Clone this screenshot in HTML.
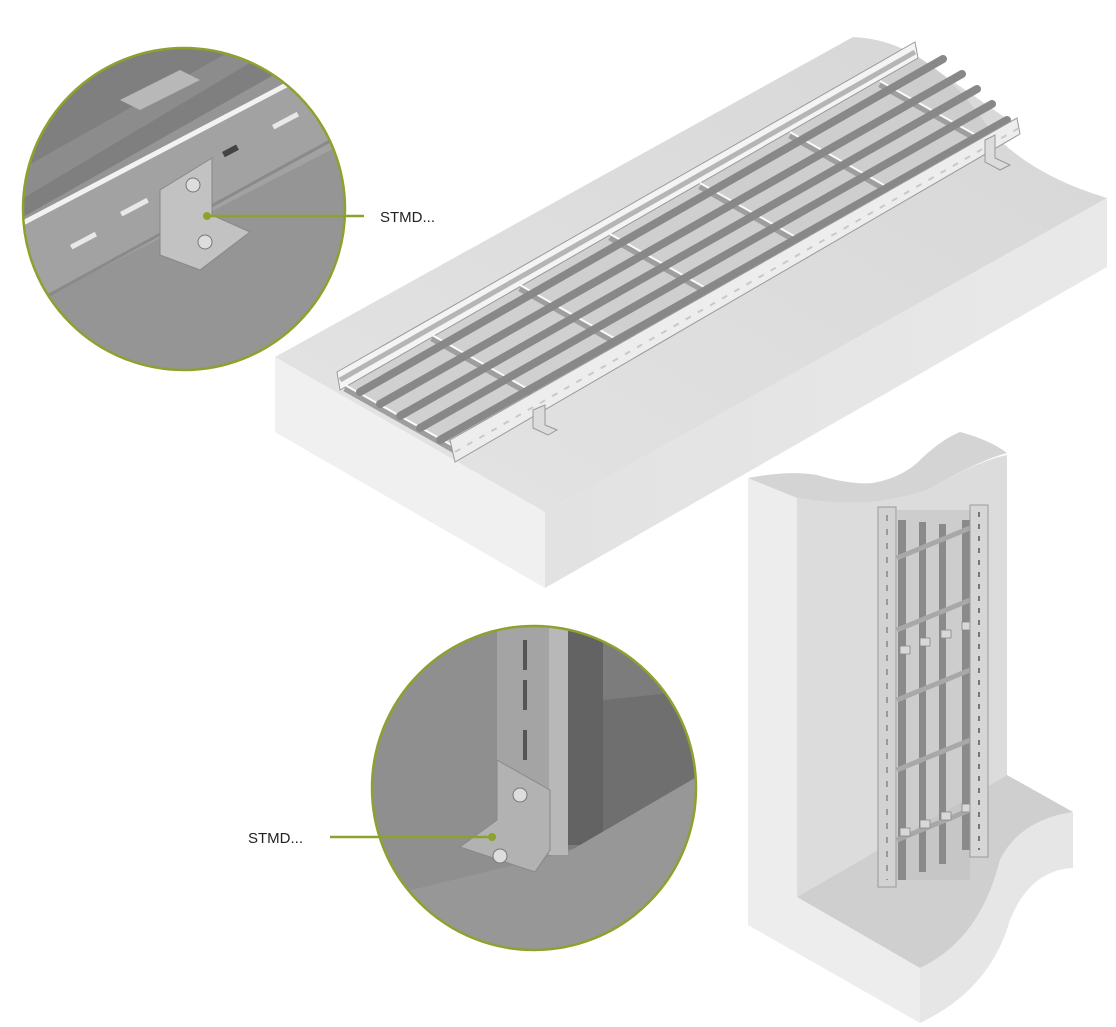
<!DOCTYPE html>
<html><head><meta charset="utf-8"><style>
html,body{margin:0;padding:0;background:#fff;}
svg{display:block;}
text{font-family:"Liberation Sans",sans-serif;font-size:15px;fill:#222;}
</style></head><body>
<svg width="1116" height="1027" viewBox="0 0 1116 1027" xmlns="http://www.w3.org/2000/svg">
<defs>
<linearGradient id="topg" x1="0" y1="1" x2="1" y2="0"><stop offset="0" stop-color="#e4e4e4"/><stop offset="1" stop-color="#d6d6d6"/></linearGradient>
<linearGradient id="rf" x1="0" y1="0" x2="1" y2="0"><stop offset="0" stop-color="#e2e2e2"/><stop offset="1" stop-color="#e9e9e9"/></linearGradient>
<clipPath id="c1"><circle cx="184" cy="209" r="161"/></clipPath>
<clipPath id="c2"><circle cx="534" cy="788" r="162"/></clipPath>
</defs>

<!-- Slab -->
<path d="M275,357 L545,512 L545,588 L275,432 Z" fill="#f0f0f0"/>
<path d="M545,512 L1107,198 L1107,267 L545,588 Z" fill="url(#rf)"/>
<path d="M275,357 L853,37 Q930,40 990,130 Q1030,175 1107,198 L545,512 Z" fill="url(#topg)"/>
<path d="M340,380 L915,55 L1020,128 L455,455 Z" fill="#c9c9c9" opacity="0.7"/>

<!-- ladder rails -->
<path d="M337,372 L915,42 L918,58 L340,390 Z" fill="#f4f4f4" stroke="#9a9a9a" stroke-width="1"/>
<path d="M340,380 L915,52" stroke="#b5b5b5" stroke-width="5"/>
<!-- crossbars -->
<g stroke="#9e9e9e" stroke-width="7">
<line x1="345" y1="388" x2="455" y2="450"/>
<line x1="432" y1="338" x2="542" y2="400"/>
<line x1="520" y1="288" x2="630" y2="350"/>
<line x1="610" y1="237" x2="720" y2="299"/>
<line x1="700" y1="186" x2="810" y2="248"/>
<line x1="790" y1="135" x2="900" y2="197"/>
<line x1="880" y1="84" x2="990" y2="146"/>
</g>
<g stroke="#fafafa" stroke-width="2">
<line x1="345" y1="385" x2="455" y2="447"/>
<line x1="432" y1="335" x2="542" y2="397"/>
<line x1="520" y1="285" x2="630" y2="347"/>
<line x1="610" y1="234" x2="720" y2="296"/>
<line x1="700" y1="183" x2="810" y2="245"/>
<line x1="790" y1="132" x2="900" y2="194"/>
<line x1="880" y1="81" x2="990" y2="143"/>
</g>
<!-- longitudinal bars -->
<g stroke="#888" stroke-width="8" stroke-linecap="round">
<line x1="360" y1="392" x2="943" y2="59"/>
<line x1="380" y1="404" x2="962" y2="74"/>
<line x1="400" y1="416" x2="977" y2="89"/>
<line x1="420" y1="428" x2="992" y2="104"/>
<line x1="440" y1="440" x2="1007" y2="120"/>
</g>
<path d="M450,440 L1017,118 L1020,134 L455,462 Z" fill="#ededed" stroke="#9a9a9a" stroke-width="1"/>
<path d="M455,452 L1019,128" stroke="#c9c9c9" stroke-width="2" stroke-dasharray="6,8"/>
<!-- brackets -->
<path d="M533,410 L545,405 L545,425 L557,430 L548,435 L533,428 Z" fill="#dcdcdc" stroke="#999"/>
<path d="M985,140 L995,135 L995,158 L1010,165 L1000,170 L985,162 Z" fill="#dcdcdc" stroke="#999"/>

<!-- Circle 1 -->
<g clip-path="url(#c1)">
<rect x="20" y="45" width="330" height="330" fill="#959595"/>
<path d="M0,230 L300,60 L300,0 L0,0 Z" fill="#7f7f7f"/>
<path d="M20,170 L250,40 L280,45 L20,200 Z" fill="#8c8c8c"/>
<path d="M120,100 L180,70 L200,80 L140,110 Z" fill="#b8b8b8"/>
<path d="M0,238 L290,80 L350,80 L350,140 L40,300 L0,310 Z" fill="#a2a2a2"/>
<path d="M0,235 L292,82" stroke="#f2f2f2" stroke-width="5"/>
<path d="M40,300 L350,130" stroke="#8a8a8a" stroke-width="3"/>
<g fill="#e8e8e8"><rect x="120" y="212" width="30" height="5" transform="rotate(-28 120 212)"/><rect x="70" y="245" width="28" height="5" transform="rotate(-28 70 245)"/><rect x="272" y="125" width="28" height="5" transform="rotate(-28 272 125)"/><rect x="222" y="152" width="16" height="6" fill="#444" transform="rotate(-28 222 152)"/></g>
<path d="M160,190 L212,158 L212,215 L250,232 L200,270 L160,255 Z" fill="#c2c2c2" stroke="#888"/>
<circle cx="193" cy="185" r="7" fill="#ddd" stroke="#777"/>
<circle cx="205" cy="242" r="7" fill="#ddd" stroke="#777"/>
</g>
<circle cx="184" cy="209" r="161" fill="none" stroke="#8ba32e" stroke-width="2.5"/>
<circle cx="207" cy="216" r="4" fill="#8ba32e"/>
<line x1="207" y1="216" x2="364" y2="216" stroke="#8ba32e" stroke-width="2.5"/>
<text x="380" y="222">STMD...</text>

<!-- Wall block -->
<path d="M748,478 L797,498 L797,897 L920,968 L920,1023 L748,925 Z" fill="#ededed"/>
<path d="M797,498 Q840,505 873,502 Q910,495 927,490 Q980,460 1007,455 L1007,775 L797,897 Z" fill="#dcdcdc"/>
<path d="M748,478 Q790,470 817,475 Q850,485 873,483 Q900,478 917,463 Q940,440 960,432 Q990,440 1007,453 Q980,460 927,490 Q905,497 873,502 Q840,505 797,498 Z" fill="#d4d4d4"/>
<path d="M797,897 L1007,775 L1073,812 Q1020,820 1000,860 Q980,940 920,968 Z" fill="#cfcfcf"/>
<path d="M920,968 Q980,940 1000,860 Q1020,820 1073,812 L1073,868 Q1030,870 1010,920 Q990,990 920,1023 Z" fill="#e6e6e6"/>
<!-- vertical ladder -->
<rect x="897" y="510" width="73" height="370" fill="#bdbdbd" opacity="0.5"/>
<g fill="#8a8a8a"><rect x="898" y="520" width="8" height="360"/><rect x="919" y="522" width="7" height="350"/><rect x="939" y="524" width="7" height="340"/><rect x="962" y="520" width="8" height="330"/></g>
<g stroke="#a8a8a8" stroke-width="5">
<line x1="897" y1="558" x2="970" y2="528"/><line x1="897" y1="630" x2="970" y2="600"/><line x1="897" y1="700" x2="970" y2="670"/><line x1="897" y1="770" x2="970" y2="740"/><line x1="897" y1="840" x2="970" y2="810"/>
</g>
<g fill="#d8d8d8" stroke="#888" stroke-width="0.8"><rect x="900" y="646" width="10" height="8"/><rect x="920" y="638" width="10" height="8"/><rect x="941" y="630" width="10" height="8"/><rect x="962" y="622" width="10" height="8"/><rect x="900" y="828" width="10" height="8"/><rect x="920" y="820" width="10" height="8"/><rect x="941" y="812" width="10" height="8"/><rect x="962" y="804" width="10" height="8"/></g>
<rect x="878" y="507" width="18" height="380" fill="#d2d2d2" stroke="#9a9a9a" stroke-width="1"/>
<line x1="887" y1="515" x2="887" y2="880" stroke="#888" stroke-width="1.5" stroke-dasharray="6,8"/>
<rect x="970" y="505" width="18" height="352" fill="#d6d6d6" stroke="#9a9a9a" stroke-width="1"/>
<line x1="979" y1="512" x2="979" y2="850" stroke="#777" stroke-width="2" stroke-dasharray="5,7"/>

<!-- Circle 2 -->
<g clip-path="url(#c2)">
<rect x="370" y="620" width="330" height="335" fill="#8f8f8f"/>
<path d="M568,620 L700,620 L700,780 L603,843 L568,850 Z" fill="#7c7c7c"/>
<path d="M603,700 L700,690 L700,780 L603,843 Z" fill="#6f6f6f"/>
<rect x="568" y="620" width="35" height="225" fill="#636363"/>
<path d="M568,852 L700,775 L700,960 L370,960 L370,900 Z" fill="#979797"/>
<rect x="497" y="620" width="52" height="235" fill="#a4a4a4"/>
<rect x="549" y="620" width="19" height="235" fill="#b8b8b8"/>
<g fill="#555"><rect x="523" y="640" width="4" height="30"/><rect x="523" y="680" width="4" height="30"/><rect x="523" y="730" width="4" height="30"/></g>
<path d="M497,760 L550,790 L550,850 L535,872 L460,847 L497,820 Z" fill="#b2b2b2" stroke="#888"/>
<circle cx="520" cy="795" r="7" fill="#ddd" stroke="#777"/>
<circle cx="500" cy="856" r="7" fill="#ddd" stroke="#777"/>
</g>
<circle cx="534" cy="788" r="162" fill="none" stroke="#8ba32e" stroke-width="2.5"/>
<circle cx="492" cy="837" r="4" fill="#8ba32e"/>
<line x1="330" y1="837" x2="492" y2="837" stroke="#8ba32e" stroke-width="2.5"/>
<text x="248" y="843">STMD...</text>
</svg>
</body></html>
